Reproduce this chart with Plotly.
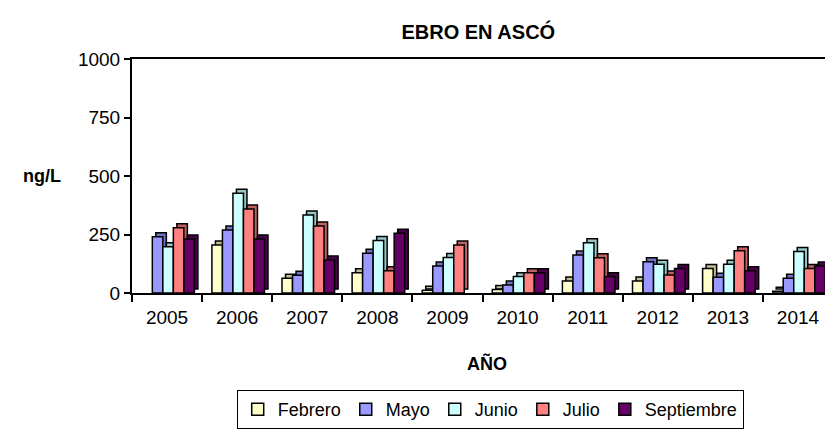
import plotly.graph_objects as go

years = ["2005", "2006", "2007", "2008", "2009", "2010", "2011", "2012", "2013", "2014"]
febrero = [None, 205, 63, 87, 12, 15, 51, 51, 105, 8]
mayo = [240, 269, 76, 170, 115, 34, 162, 134, 67, 63]
junio = [198, 426, 333, 224, 152, 70, 215, 123, 123, 177]
julio = [279, 359, 286, 95, 205, 87, 151, 77, 181, 105]
septiembre = [231, 231, 141, 255, None, 87, 70, 105, 95, 115]
series_names = ["Febrero", "Mayo", "Junio", "Julio", "Septiembre"]
y_ticks = [0, 250, 500, 750, 1000]

series = [febrero, mayo, junio, julio, septiembre]
front_colors = ["#FFFFCC", "#9999FF", "#CCFFFF", "#FF8080", "#660066"]
depth_colors = ["#BDBD96", "#7272C0", "#96C6C6", "#C05F5F", "#4A004A"]

xs = list(range(len(years)))
bw = 0.15
start = -0.36
dx = 0.05
dy = 17

fig = go.Figure()
for j, (name, vals) in enumerate(zip(series_names, series)):
    off = start + j * bw
    fig.add_trace(go.Bar(
        x=xs, y=vals, base=dy, width=bw, offset=off + dx,
        marker=dict(color=depth_colors[j], line=dict(color="black", width=1.5)),
        showlegend=False, hoverinfo="skip"))
    fig.add_trace(go.Bar(
        x=xs, y=vals, width=bw, offset=off, name=name,
        marker=dict(color=front_colors[j], line=dict(color="black", width=1.5))))

font_family = "Liberation Sans, Arial, sans-serif"
fig.update_layout(
    width=825, height=423,
    margin=dict(l=124, r=0, t=51, b=138),
    barmode="overlay",
    plot_bgcolor="white", paper_bgcolor="white",
    font=dict(family=font_family, size=19, color="black"),
    title=dict(text="<b>EBRO EN ASCÓ</b>", x=0.494, xref="paper", xanchor="center",
               y=0.944, yref="container", yanchor="middle",
               font=dict(size=20, family=font_family)),
    legend=dict(orientation="h", x=0.511, xanchor="center", y=-0.415, yanchor="top",
                bordercolor="black", borderwidth=1, font=dict(size=18),
                traceorder="normal", itemclick=False),
    xaxis=dict(range=[-0.5, 9.5], tickvals=xs, ticktext=years, ticks="",
               ticklabelstandoff=6,
               showline=True, linecolor="black", linewidth=2, mirror=True,
               showgrid=False, zeroline=False, tickfont=dict(size=19),
               minor=dict(tickvals=[i - 0.5 for i in range(len(years) + 1)],
                          ticks="outside", ticklen=7, tickcolor="black", tickwidth=1.5,
                          showgrid=False)),
    yaxis=dict(range=[0, 1000], tickvals=y_ticks, ticks="outside", ticklen=6,
               tickcolor="black", tickwidth=1.5,
               showline=True, linecolor="black", linewidth=2,
               showgrid=False, zeroline=False, tickfont=dict(size=19)),
    annotations=[
        dict(text="<b>ng/L</b>", xref="paper", yref="paper", x=-0.098, y=0.5,
             xanchor="right", yanchor="middle", showarrow=False, font=dict(size=18)),
        dict(text="<b>AÑO</b>", xref="paper", yref="paper", x=0.506, y=-0.303,
             xanchor="center", yanchor="middle", showarrow=False, font=dict(size=18)),
    ],
)

fig.write_html("out.html")
